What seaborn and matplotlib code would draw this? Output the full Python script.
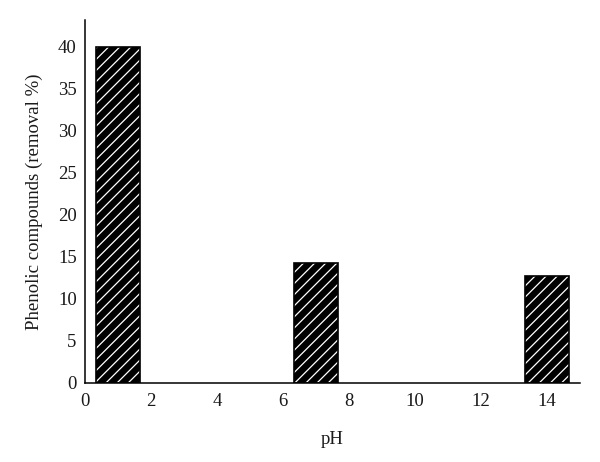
import numpy as np
import pandas as pd
import matplotlib
matplotlib.use("Agg")
import matplotlib.pyplot as plt
import seaborn as sns
from matplotlib.patches import Rectangle

ph_values = [1, 7, 14]
removal_pct = [40.0, 14.3, 12.7]

df = pd.DataFrame({'pH': ph_values, 'removal': removal_pct})

sns.set_style("white")
plt.rcParams['font.family'] = ['Liberation Serif', 'DejaVu Serif']
plt.rcParams['hatch.linewidth'] = 0.9

fig = plt.figure(figsize=(6, 4.62), dpi=100)
ax = fig.add_axes([0.1417, 0.171, 0.825, 0.7857])

# native_scale puts bars at the real pH values; width relative to min spacing (6)
sns.barplot(data=df, x='pH', y='removal', native_scale=True, width=1.33 / 6,
            color='black', saturation=1, ax=ax)

for p in list(ax.patches):
    p.set_facecolor('black')
    p.set_edgecolor('white')
    p.set_hatch('///')
    p.set_linewidth(0)
    ax.add_patch(Rectangle(p.get_xy(), p.get_width(), p.get_height(),
                           fill=False, edgecolor='black', linewidth=1.2, zorder=p.get_zorder() + 0.1))

ax.set_xlim(0, 15)
ax.set_ylim(0, 43.2)
ax.set_xticks(np.arange(0, 15, 2))
ax.set_yticks(np.arange(0, 41, 5))
ax.tick_params(axis='both', length=0, labelsize=13.5, colors='#1a1a1a')
ax.tick_params(axis='x', pad=7)
ax.tick_params(axis='y', pad=6)
ax.set_xlabel('pH', fontsize=13.5, labelpad=15, color='#1a1a1a')
ax.set_ylabel('Phenolic compounds (removal %)', fontsize=13.5, labelpad=11, color='#1a1a1a')

sns.despine(ax=ax)
for s in ['left', 'bottom']:
    ax.spines[s].set_color('black')
    ax.spines[s].set_linewidth(1.1)

fig.savefig('out.png', dpi=100)
